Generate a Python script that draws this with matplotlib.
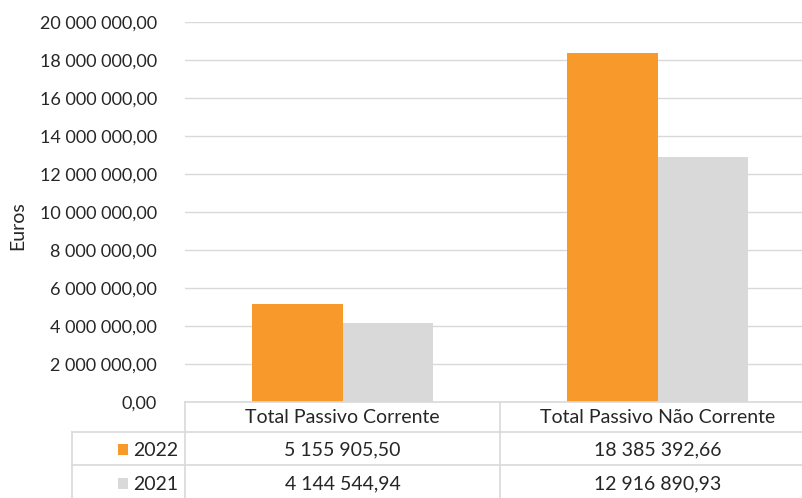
import matplotlib
matplotlib.use("Agg")
import matplotlib.pyplot as plt
from matplotlib.transforms import blended_transform_factory
from matplotlib.lines import Line2D
from matplotlib.patches import Rectangle

categories = ["Total Passivo Corrente", "Total Passivo Não Corrente"]
series_names = ["2022", "2021"]
values_2022 = [5155905.50, 18385392.66]
values_2021 = [4144544.94, 12916890.93]
y_ticks = [0, 2e6, 4e6, 6e6, 8e6, 10e6, 12e6, 14e6, 16e6, 18e6, 20e6]

colors = ["#F7992B", "#D9D9D9"]
text_color = "#262626"
grid_color = "#D9D9D9"
font = "Lato"

plt.rcParams["font.family"] = [font, "DejaVu Sans"]


def fmt(v):
    return f"{v:,.2f}".replace(",", " ").replace(".", ",")


W, H = 802, 498
fig = plt.figure(figsize=(W / 100, H / 100), dpi=100)

# plot area in pixel terms
left_px, right_px, top_px, bottom_px = 185, 815, 22, 402
ax = fig.add_axes([left_px / W, 1 - bottom_px / H,
                   (right_px - left_px) / W, (bottom_px - top_px) / H])

x = list(range(len(categories)))
bw = 0.286
ax.bar([i - bw / 2 for i in x], values_2022, width=bw, color=colors[0], zorder=3)
ax.bar([i + bw / 2 for i in x], values_2021, width=bw, color=colors[1], zorder=3)

ax.set_xlim(-0.5, len(categories) - 0.5)
ax.set_ylim(0, 20e6)
ax.set_yticks(y_ticks)
ax.set_yticklabels([fmt(t) for t in y_ticks], fontsize=13, color=text_color)
ax.tick_params(axis="y", length=0, pad=20)
ax.set_xticks([])
ax.grid(axis="y", color=grid_color, linewidth=1, zorder=0)
for s in ax.spines.values():
    s.set_visible(False)

fig.text(18 / W, 1 - 226 / H, "Euros", rotation=90, ha="center", va="center",
         fontsize=14, color=text_color)

# data table below the plot area
def fy(py):
    return 1 - py / H

def fx(px):
    return px / W

line_kw = dict(color=grid_color, linewidth=1.2, transform=fig.transFigure)
fig.add_artist(Line2D([fx(left_px), 1], [fy(402), fy(402)], **line_kw))
fig.add_artist(Line2D([fx(72), 1], [fy(432), fy(432)], **line_kw))
fig.add_artist(Line2D([fx(72), 1], [fy(465), fy(465)], **line_kw))
fig.add_artist(Line2D([fx(left_px), fx(left_px)], [fy(402), fy(498)], **line_kw))
fig.add_artist(Line2D([fx(72), fx(72)], [fy(432), fy(498)], **line_kw))

trans = blended_transform_factory(ax.transData, fig.transFigure)
for i in range(len(categories) - 1):
    fig.add_artist(Line2D([i + 0.5, i + 0.5], [fy(402), fy(498)],
                          color=grid_color, linewidth=1.2, transform=trans))

for i, cat in enumerate(categories):
    fig.text(i, fy(417), cat, transform=trans, ha="center", va="center",
             fontsize=14, color=text_color)

rows = [values_2022, values_2021]
row_centers = [450, 484]
for r, (name, vals) in enumerate(zip(series_names, rows)):
    cy = row_centers[r]
    fig.add_artist(Rectangle((fx(118), fy(cy + 5)), 10 / W, 11 / H,
                             facecolor=colors[r], edgecolor="none",
                             transform=fig.transFigure))
    fig.text(fx(133), fy(cy), name, ha="left", va="center",
             fontsize=14, color=text_color)
    for i, v in enumerate(vals):
        fig.text(i, fy(cy), fmt(v), transform=trans, ha="center", va="center",
                 fontsize=14, color=text_color)

fig.savefig("out.png", dpi=100)
